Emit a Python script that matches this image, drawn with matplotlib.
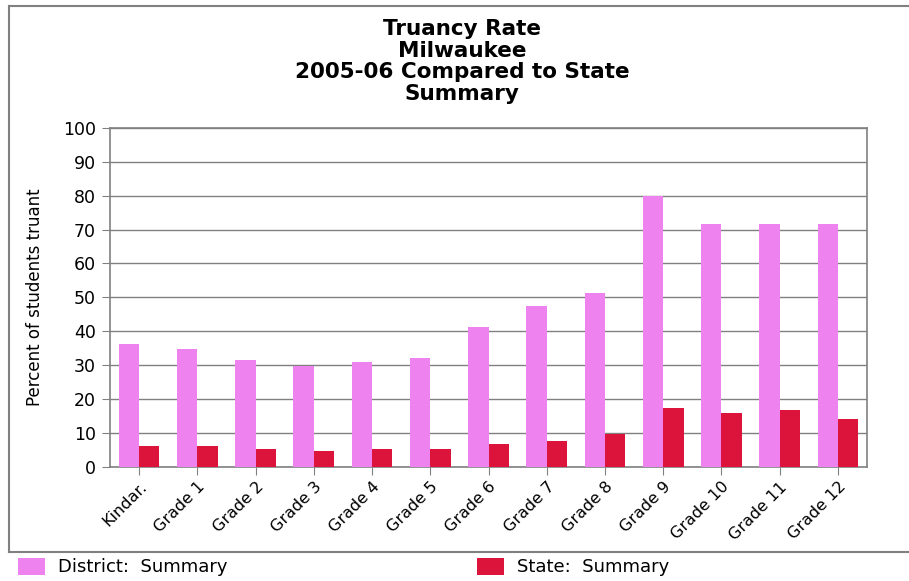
import numpy as np
import matplotlib
matplotlib.use("Agg")
import matplotlib.pyplot as plt
from matplotlib.lines import Line2D

plt.rcParams['font.family'] = ['DejaVu Sans']

grades = ["Kindar.", "Grade 1", "Grade 2", "Grade 3", "Grade 4", "Grade 5", "Grade 6",
          "Grade 7", "Grade 8", "Grade 9", "Grade 10", "Grade 11", "Grade 12"]
district = [36.2, 34.8, 31.5, 29.6, 31.0, 32.0, 41.2, 47.3, 51.4, 79.8, 71.6, 71.6, 71.6]
state = [6.2, 6.2, 5.2, 4.7, 5.2, 5.2, 6.7, 7.6, 9.7, 17.2, 15.9, 16.8, 14.0]
yticks = list(range(0, 101, 10))

W, H = 909, 581
fig = plt.figure(figsize=(W / 100, H / 100), dpi=100)
ax = fig.add_axes([110 / W, 1 - 466.7 / H, (867 - 110) / W, (466.7 - 128) / H])

x = np.arange(len(grades))
bw = 0.35
b1 = ax.bar(x - bw / 2, district, bw, color="#EE82EE", label="District:  Summary", zorder=3)
b2 = ax.bar(x + bw / 2, state, bw, color="#DC143C", label="State:  Summary", zorder=3)

ax.set_xlim(-0.5, len(grades) - 0.5)
ax.set_ylim(0, 100)
ax.set_yticks(yticks)
ax.set_xticks(x)
ax.set_xticklabels(grades, rotation=45, ha="right", rotation_mode="anchor", fontsize=11.5)
ax.tick_params(axis="y", labelsize=12.5, length=6, color="#808080", pad=4)
ax.tick_params(axis="x", length=6, color="#808080", pad=3)
ax.yaxis.grid(True, color="#808080", linewidth=1, zorder=0)
ax.set_axisbelow(True)
for s in ax.spines.values():
    s.set_color("#808080")
    s.set_linewidth(1.2)

ax.set_ylabel("Percent of students truant", fontsize=12, labelpad=14)

fig.text(462 / W, 1 - 19 / H, "Truancy Rate\nMilwaukee\n2005-06 Compared to State\nSummary",
         ha="center", va="top", fontsize=15.5, fontweight="bold", linespacing=1.1)

# outer frame and legend separator
fig.add_artist(Line2D([9 / W, 1], [1 - 6 / H, 1 - 6 / H], color="#808080", lw=1.5))
fig.add_artist(Line2D([9 / W, 9 / W], [1 - 6 / H, 1 - 551.5 / H], color="#808080", lw=1.5))
fig.add_artist(Line2D([9 / W, 1], [1 - 551.5 / H, 1 - 551.5 / H], color="#808080", lw=1.5))

leg_kw = dict(loc="center left", frameon=False, fontsize=13, handlelength=1.5,
              handleheight=1.1, handletextpad=0.7)
fig.legend(handles=[b1], bbox_to_anchor=(2 / W, 1 - 567 / H), **leg_kw)
fig.legend(handles=[b2], bbox_to_anchor=(461 / W, 1 - 567 / H), **leg_kw)

fig.savefig("out.png", dpi=100)
